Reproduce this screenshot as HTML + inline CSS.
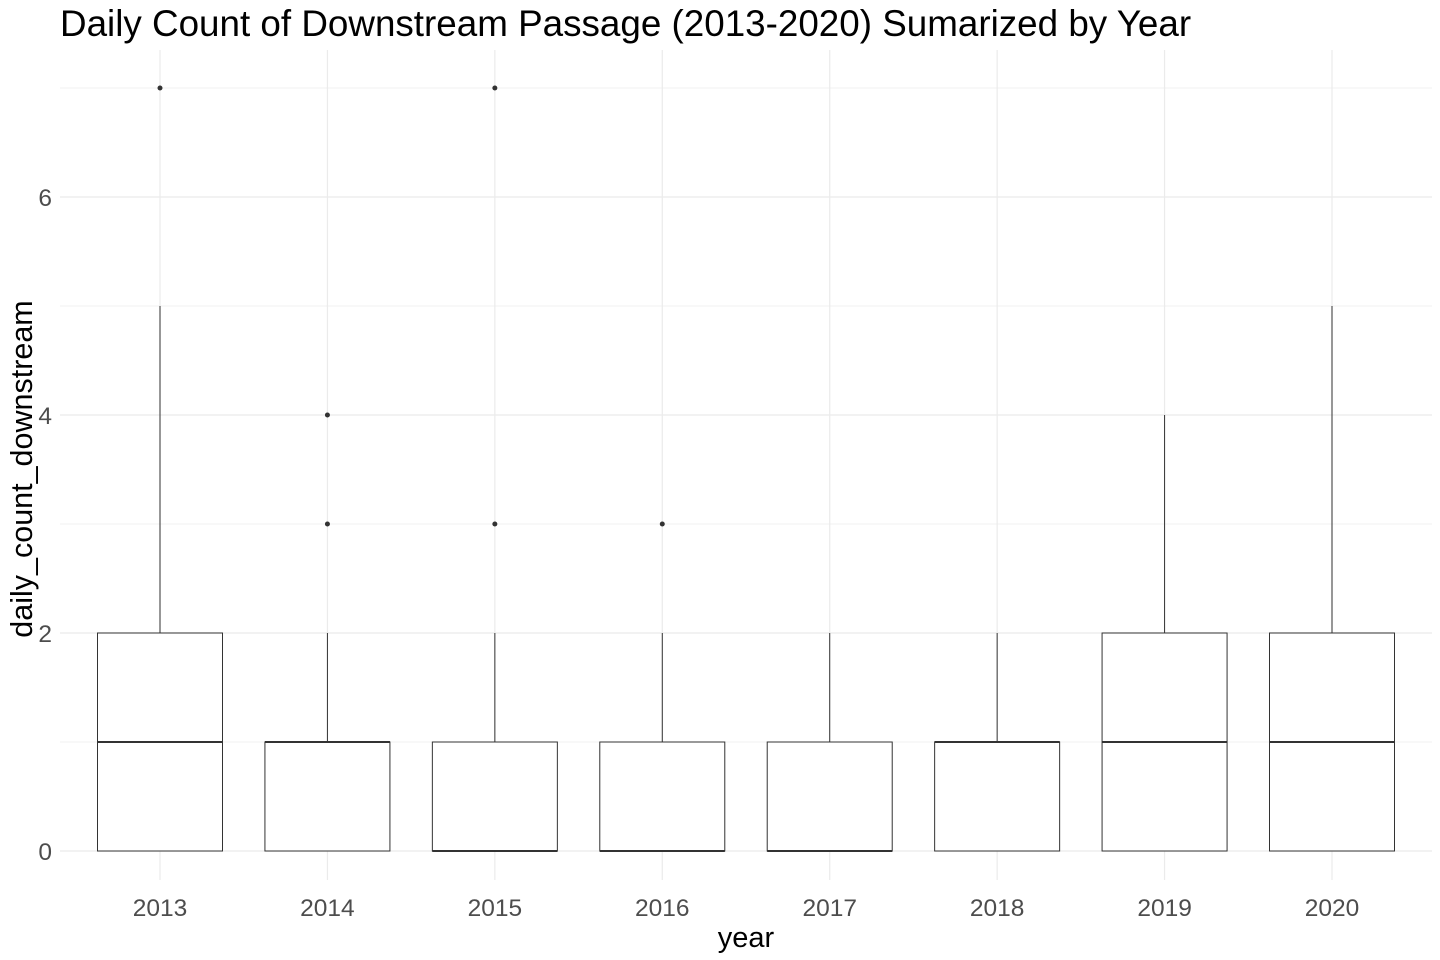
<!DOCTYPE html>
<html><head><meta charset="utf-8"><style>
body{margin:0;background:#fff;}
svg{display:block;font-family:"Liberation Sans",sans-serif;}
</style></head><body>
<svg id="chart" width="1440" height="960">
<text x="60" y="36" font-size="36.8" fill="#000">Daily Count of Downstream Passage (2013-2020) Sumarized by Year</text>
<g id="grid"></g>
<g id="boxes"></g>
<g id="yticks"></g>
<g id="xticks"></g>
<text x="746" y="947" font-size="29" text-anchor="middle" fill="#000">year</text>
<text transform="translate(32,469) rotate(-90)" font-size="30.5" text-anchor="middle" fill="#000">daily_count_downstream</text>
</svg>
<script>
const categories=["2013","2014","2015","2016","2017","2018","2019","2020"];
const q1=[0,0,0,0,0,0,0,0];
const median=[1,1,0,0,0,1,1,1];
const q3=[2,1,1,1,1,1,2,2];
const whiskerLow=[0,0,0,0,0,0,0,0];
const whiskerHigh=[5,2,2,2,2,2,4,5];
const outliers=[[7],[3,4],[3,7],[3],[],[],[],[]];
const yTicks=[0,2,4,6];
const yMinor=[1,3,5,7];
(function(){
const NS="http://www.w3.org/2000/svg";
const plotLeft=60,plotRight=1432,plotTop=50,plotBottom=880;
function y(v){return 851-v*109;}
function x(i){return 160+i*(1332-160)/(categories.length-1);}
const bw=125;
function mk(tag,attrs,parent){const e=document.createElementNS(NS,tag);for(const k in attrs)e.setAttribute(k,attrs[k]);parent.appendChild(e);return e;}
const grid=document.getElementById('grid');
yMinor.forEach(v=>{const l=mk('line',{x1:plotLeft,x2:plotRight,y1:y(v),y2:y(v),stroke:'#f0f0f0','stroke-width':1},grid);

});
yTicks.forEach(v=>{const l=mk('line',{x1:plotLeft,x2:plotRight,y1:y(v),y2:y(v),stroke:'#ebebeb','stroke-width':1.2},grid);

});
categories.forEach((c,i)=>{const l=mk('line',{x1:x(i),x2:x(i),y1:plotTop,y2:plotBottom,stroke:'#ebebeb','stroke-width':1.2},grid);

});
const boxes=document.getElementById('boxes');
categories.forEach((c,i)=>{
 const g=mk('g',{},boxes);
 
 
 const cx=x(i);
 mk('line',{x1:cx,x2:cx,y1:y(q3[i]),y2:y(whiskerHigh[i]),stroke:'#333','stroke-width':1},g);
 mk('line',{x1:cx,x2:cx,y1:y(q1[i]),y2:y(whiskerLow[i]),stroke:'#333','stroke-width':1},g);
 mk('rect',{x:cx-bw/2,y:y(q3[i]),width:bw,height:y(q1[i])-y(q3[i]),fill:'#fff',stroke:'#333','stroke-width':1},g);
 mk('line',{x1:cx-bw/2,x2:cx+bw/2,y1:y(median[i]),y2:y(median[i]),stroke:'#333','stroke-width':2},g);
 outliers[i].forEach(v=>{const p=mk('circle',{cx:cx,cy:y(v),r:2.5,fill:'#333'},g);
 
 });
});
const yt=document.getElementById('yticks');
yTicks.forEach(v=>{const t=mk('text',{x:52,y:y(v)+9,'font-size':24.5,'text-anchor':'end',fill:'#4d4d4d'},yt);t.textContent=v;

});
const xt=document.getElementById('xticks');
categories.forEach((c,i)=>{const t=mk('text',{x:x(i),y:916,'font-size':24.5,'text-anchor':'middle',fill:'#4d4d4d'},xt);t.textContent=c;

});
})();
</script>
</body></html>
